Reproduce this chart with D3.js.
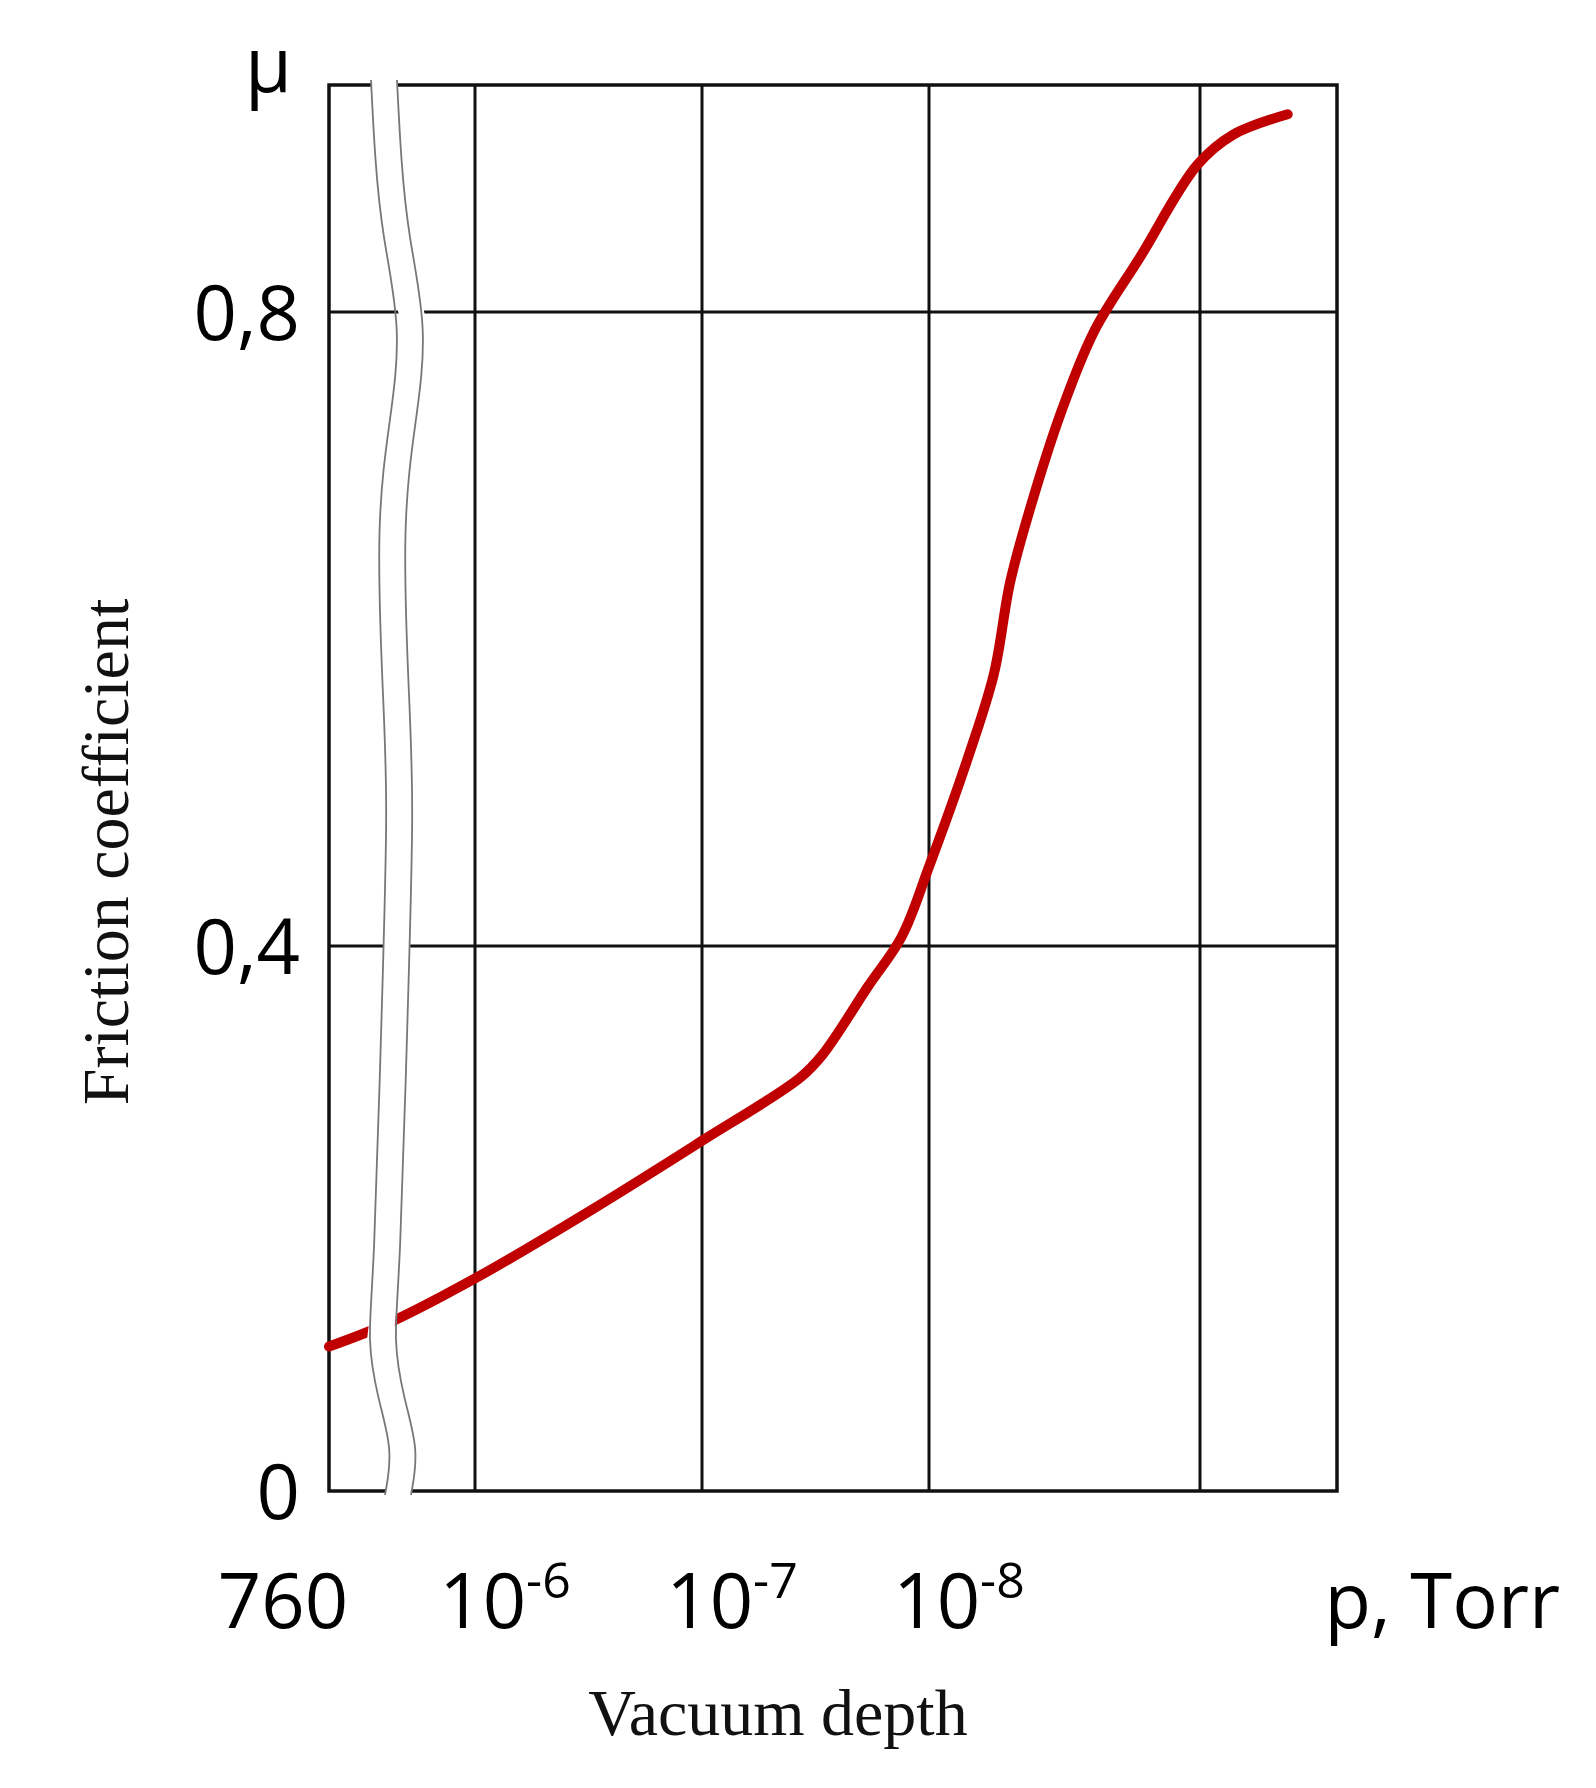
<!DOCTYPE html>
<html lang="en">
<head>
<meta charset="UTF-8">
<title>Friction coefficient vs vacuum depth</title>
<script src="https://d3js.org/d3.v7.min.js"></script>
<style>
  body { margin: 0; background: #fff; }
  .tick-label { font-family: "Open Sans", "Liberation Sans", sans-serif; font-size: 76px; fill: #000; }
  .title { font-family: "Liberation Serif", "DejaVu Serif", serif; font-size: 66px; fill: #111; }
</style>
</head>
<body>
<svg id="chart"></svg>
<script>
// x in "decades" (-log10 p), 0 stands for atmosphere (760 Torr) before the break
const xGrid = [6, 7, 8, 9];
const xLabels = [{ x: 0, base: "760", exp: "" }, { x: 6, base: "10", exp: "-6" },
                 { x: 7, base: "10", exp: "-7" }, { x: 8, base: "10", exp: "-8" }];
const yTicks = [0, 0.4, 0.8];
const yTickLabels = ["0", "0,4", "0,8"];

const curveX = [0, 2.42, 6, 6.52, 7, 7.43, 7.53, 7.73, 7.88, 8, 8.15, 8.24, 8.30, 8.38, 8.49, 8.61, 8.78, 8.99, 9.12, 9.32];
const curveMu = [0.106, 0.123, 0.156, 0.207, 0.257, 0.303, 0.320, 0.370, 0.406, 0.450, 0.522, 0.572, 0.630, 0.680, 0.738, 0.788, 0.835, 0.893, 0.912, 0.925];

const width = 1596, height = 1788;
const svg = d3.select('#chart').attr('width', width).attr('height', height);

// the original chart is not evenly spaced, so piecewise scales
const x = d3.scaleLinear().domain([0, 6, 7, 8, 9, 9.5]).range([329, 475, 702, 929, 1200, 1337]);
const y = d3.scaleLinear().domain([0, 0.4, 0.8, 0.9435]).range([1491, 946, 312, 85]);

const plotTop = y(0.9435), plotBottom = y(0), plotLeft = x(0), plotRight = x(9.5);

// grid
svg.append('g').selectAll('line').data(xGrid).join('line')
  .attr('x1', d => x(d)).attr('x2', d => x(d)).attr('y1', plotTop).attr('y2', plotBottom)
  .attr('stroke', '#111').attr('stroke-width', 3);
svg.append('g').selectAll('line').data(yTicks.filter(d => d > 0)).join('line')
  .attr('x1', plotLeft).attr('x2', plotRight).attr('y1', d => y(d)).attr('y2', d => y(d))
  .attr('stroke', '#111').attr('stroke-width', 3);
svg.append('rect').attr('x', plotLeft).attr('y', plotTop)
  .attr('width', plotRight - plotLeft).attr('height', plotBottom - plotTop)
  .attr('fill', 'none').attr('stroke', '#111').attr('stroke-width', 3.5);

// curve
const pts = curveX.map((d, i) => [x(d), y(curveMu[i])]);
svg.append('path').attr('d', d3.line().curve(d3.curveCatmullRom)(pts))
  .attr('fill', 'none').attr('stroke', '#c00000').attr('stroke-width', 10).attr('stroke-linecap', 'round');

// axis break: wavy white band with thin grey edges
const waveL = [[371, 80], [375, 160], [382, 235], [402, 330], [390, 420], [376, 520], [383, 700], [388, 800], [382, 1000], [374, 1280], [367, 1340], [378, 1400], [393, 1450], [385, 1495]];
const waveR = waveL.map(p => [p[0] + 26, p[1]]);
const band = waveL.concat(waveR.slice().reverse());
svg.append('path').attr('d', d3.line().curve(d3.curveLinearClosed)(band)).attr('fill', '#fff');
[waveL, waveR].forEach(w => svg.append('path').attr('d', d3.line().curve(d3.curveBasis)(w))
  .attr('fill', 'none').attr('stroke', '#777').attr('stroke-width', 1.8));

// y tick labels
svg.append('g').selectAll('text').data(yTicks).join('text')
  .attr('class', 'tick-label').attr('x', 300).attr('y', d => y(d) + 28)
  .attr('text-anchor', 'end').text((d, i) => yTickLabels[i]);
svg.append('text').attr('class', 'tick-label').attr('x', 292).attr('y', 92)
  .attr('text-anchor', 'end').text('μ');

// x tick labels
const xl = svg.append('g').selectAll('text').data(xLabels).join('text')
  .attr('class', 'tick-label').attr('y', 1628).attr('text-anchor', 'middle')
  .attr('x', (d, i) => i === 0 ? 283 : x(d.x) + 30);
xl.append('tspan').text(d => d.base);
xl.append('tspan').attr('dy', -30).attr('font-size', 50).text(d => d.exp);
svg.append('text').attr('class', 'tick-label').attr('x', 1560).attr('y', 1628)
  .attr('text-anchor', 'end').text('p, Torr');

// titles
svg.append('text').attr('class', 'title').attr('x', 778).attr('y', 1735)
  .attr('text-anchor', 'middle').text('Vacuum depth');
svg.append('text').attr('class', 'title')
  .attr('transform', 'translate(128,852) rotate(-90)')
  .attr('text-anchor', 'middle').text('Friction coefficient');
</script>
</body>
</html>
